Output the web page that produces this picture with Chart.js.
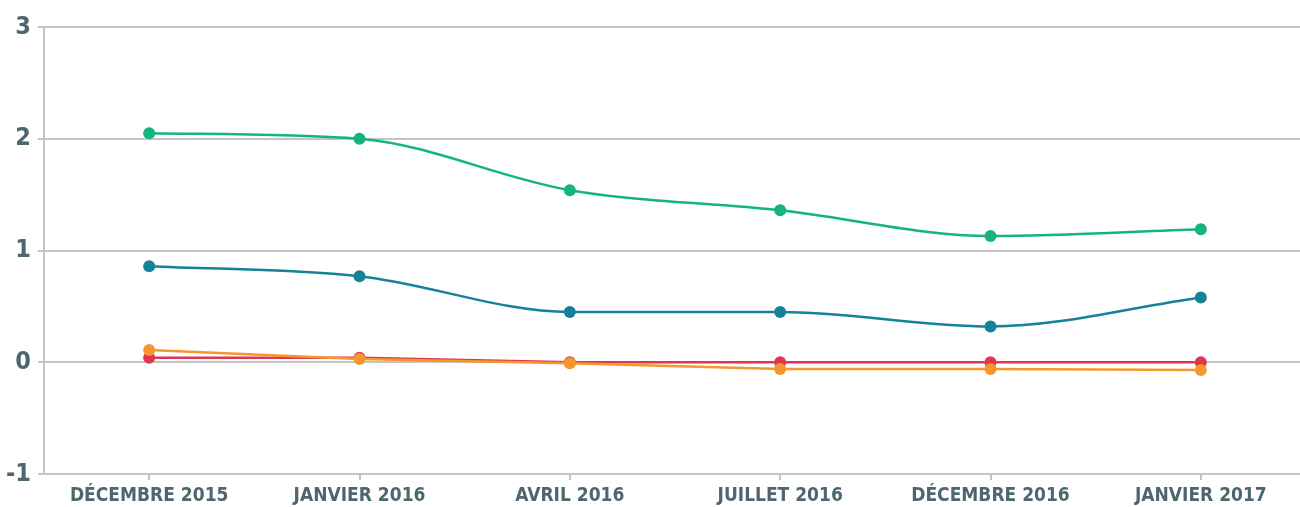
<!DOCTYPE html>
<html>
<head>
<meta charset="utf-8">
<script src="https://cdn.jsdelivr.net/npm/chart.js@4/dist/chart.umd.min.js"></script>
<style>
  html, body { margin: 0; padding: 0; background: #fff; overflow: hidden; }
</style>
</head>
<body>
<canvas id="chart" width="1312" height="507"></canvas>
<script>
// Categories and series.
var labels = ["DÉCEMBRE 2015", "JANVIER 2016", "AVRIL 2016", "JUILLET 2016", "DÉCEMBRE 2016", "JANVIER 2017"];
var greenValues = [2.05, 2.0, 1.54, 1.36, 1.13, 1.19];
var tealValues = [0.86, 0.77, 0.45, 0.45, 0.32, 0.58];
var orangeValues = [0.11, 0.03, -0.01, -0.06, -0.06, -0.07];
var redValues = [0.04, 0.04, 0.0, 0.0, 0.0, 0.0];
var yTicks = [-1, 0, 1, 2, 3];

var textColor = "#4e666e";
var gridColor = "#c4c4c4";
var font = "'DejaVu Sans Condensed', 'Liberation Sans Narrow', sans-serif";

function series(data, color, smooth) {
  return {
    data: data,
    borderColor: color,
    backgroundColor: color,
    borderWidth: 2.5,
    pointRadius: 6,
    pointHoverRadius: 6,
    pointBorderWidth: 0,
    tension: smooth ? 0.4 : 0,
    cubicInterpolationMode: smooth ? "monotone" : "default",
    fill: false,
  };
}

var ctx = document.getElementById("chart").getContext("2d");
new Chart(ctx, {
  type: "line",
  data: {
    labels: labels,
    datasets: [
      series(greenValues, "#14b57b", true),
      series(tealValues, "#14829a", true),
      series(orangeValues, "#f5972c", false),
      series(redValues, "#e03651", false),
    ],
  },
  options: {
    responsive: false,
    animation: false,
    layout: { padding: { top: 27, right: 0, left: 0, bottom: 0 } },
    plugins: { legend: { display: false }, tooltip: { enabled: false } },
    scales: {
      x: {
        offset: true,
        grid: { drawOnChartArea: false, drawTicks: true, tickLength: 6, color: gridColor, lineWidth: 2 },
        border: { color: gridColor, width: 2 },
        ticks: { color: textColor, font: { family: font, size: 19, weight: "bold" }, padding: 5, maxRotation: 0 },
        afterFit: function (scale) { scale.height = 33; },
      },
      y: {
        min: -1,
        max: 3,
        afterBuildTicks: function (scale) {
          scale.ticks = yTicks.map(function (v) { return { value: v }; });
        },
        grid: { color: gridColor, lineWidth: 2, tickLength: 6 },
        border: { color: gridColor, width: 2 },
        ticks: { color: textColor, font: { family: font, size: 25, weight: "bold" }, padding: 7 },
        afterFit: function (scale) { scale.width = 44; },
      },
    },
  },
});
</script>
</body>
</html>
